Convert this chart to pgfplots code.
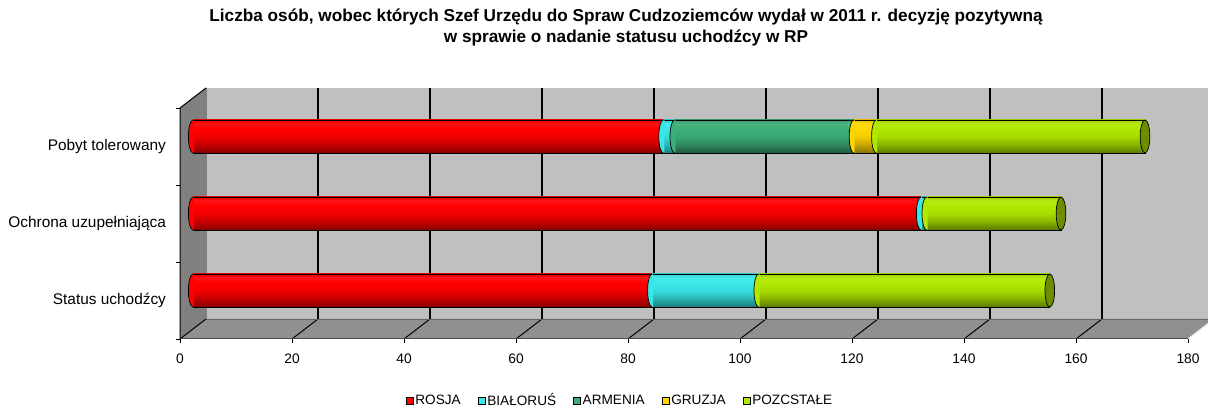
\documentclass[border=0pt]{standalone}
\usepackage{pgfplots}
\pgfplotsset{compat=1.18}
\usepackage{fontspec}
\setmainfont{Liberation Sans}
\usetikzlibrary{calc}

\definecolor{cRos}{HTML}{FF0000}
\definecolor{cBia}{HTML}{38E8E8}
\definecolor{cArm}{HTML}{3CAF78}
\definecolor{cGru}{HTML}{FFD700}
\definecolor{cPoz}{HTML}{B0E800}
\definecolor{cCap}{HTML}{6E8C00}
\definecolor{wallback}{HTML}{C0C0C0}
\definecolor{wallleft}{HTML}{808080}
\definecolor{wallfloor}{HTML}{909090}

% cylinder-like vertical shadings (path spans 25bp..75bp)
\newcommand{\cylshade}[2]{%
  \pgfdeclareverticalshading{#1}{100bp}{%
    color(0bp)=(#2!52!black); color(25bp)=(#2!52!black);
    color(38bp)=(#2!78!black); color(50bp)=(#2!95!black);
    color(62bp)=(#2); color(69bp)=(#2!92!white);
    color(75bp)=(#2!90!black); color(100bp)=(#2!90!black)}}
\cylshade{shRos}{cRos}
\cylshade{shBia}{cBia}
\cylshade{shArm}{cArm}
\cylshade{shGru}{cGru}
\cylshade{shPoz}{cPoz}

\pgfdeclareplotmark{lcap}{%
  \pgfpathmoveto{\pgfpoint{0.45pt}{8.25pt}}%
  \pgfpathlineto{\pgfpoint{0pt}{8.25pt}}%
  \pgfpatharc{90}{270}{2.3pt and 8.25pt}%
  \pgfpathlineto{\pgfpoint{0.45pt}{-8.25pt}}%
  \pgfpathclose\pgfusepathqfill
  \pgfpathmoveto{\pgfpoint{0pt}{8.25pt}}%
  \pgfpatharc{90}{270}{2.3pt and 8.25pt}%
  \pgfusepathqstroke}
\pgfdeclareplotmark{rcap}{%
  \pgfpathellipse{\pgfpointorigin}{\pgfpoint{2.4pt}{0pt}}{\pgfpoint{0pt}{8.25pt}}%
  \pgfusepathqfillstroke}

\pgfplotsset{myax/.style={at={(96.5pt,40.5pt)}, anchor=south west, scale only axis,
  width=504pt, height=115.5pt, xmin=0, xmax=180, ymin=0.5, ymax=3.5, clip=false},
  sRos/.style={shading=shRos},
  sBia/.style={shading=shBia},
  sArm/.style={shading=shArm},
  sGru/.style={shading=shGru},
  sPoz/.style={shading=shPoz},
}

\newcommand{\F}[2]{($(axis cs:#1,#2)+(-6.5pt,-5pt)$)}
\newcommand{\B}[2]{($(axis cs:#1,#2)+(6.5pt,5pt)$)}

% one stacked bar per axis, so that each bar is shaded on its own
% #1 category position, #2..#6 ROSJA, BIALORUS, ARMENIA, GRUZJA, POZOSTALE
\newcommand{\onebar}[6]{%
\begin{axis}[myax, hide axis, xbar stacked, bar width=16.5pt,
  every axis plot/.append style={draw=black, line width=0.35pt}]
\addplot[sRos] coordinates {(#2,#1)};
\addplot[sBia] coordinates {(#3,#1)};
\addplot[sArm] coordinates {(#4,#1)};
\addplot[sGru] coordinates {(#5,#1)};
\addplot[sPoz] coordinates {(#6,#1)};
\end{axis}}

\begin{document}
\begin{tikzpicture}
\path[use as bounding box] (0,0) rectangle (604pt,205pt);
\node[align=center, font=\fontsize{8.6}{10.5}\selectfont\bfseries] at (313pt,191.25pt)
  {Liczba osób, wobec których Szef Urzędu do Spraw Cudzoziemców wydał w 2011 r. decyzję pozytywną\\ w sprawie o nadanie statusu uchodźcy w RP};

% walls, ticks, labels, legend
\begin{axis}[myax,
  axis line style={draw=none}, major tick length=0pt,
  /pgf/number format/assume math mode=true,
  xtick={0,20,...,180}, ytick={1,2,3},
  yticklabels={Status uchodźcy, Ochrona uzupełniająca, Pobyt tolerowany},
  xticklabel style={font=\fontsize{6.9}{8}\selectfont, xshift=-6.5pt, yshift=-9pt},
  yticklabel style={font=\fontsize{7.7}{9}\selectfont, xshift=-10pt, yshift=-5pt},
  legend columns=5,
  legend style={at={(0.4236,-0.312)}, anchor=center, draw=none, fill=none,
    font=\fontsize{6.8}{8}\selectfont,
    nodes={inner xsep=1pt, inner ysep=0.5pt},
    /tikz/every even column/.append style={column sep=7.5pt}},
  legend image code/.code={\draw[#1, draw=black, line width=0.3pt] (0pt,-1.75pt) rectangle (3.5pt,1.75pt);},
]
\addlegendimage{fill=cRos}\addlegendentry{ROSJA}
\addlegendimage{fill=cBia}\addlegendentry{BIAŁORUŚ}
\addlegendimage{fill=cArm}\addlegendentry{ARMENIA}
\addlegendimage{fill=cGru}\addlegendentry{GRUZJA}
\addlegendimage{fill=cPoz}\addlegendentry{POZCSTAŁE}
\fill[wallback] \B{0}{0.5} rectangle \B{180}{3.5};
\fill[wallfloor] \F{0}{0.5} -- \F{180}{0.5} -- \B{180}{0.5} -- \B{0}{0.5} -- cycle;
\fill[wallleft] \F{0}{0.5} -- \F{0}{3.5} -- \B{0}{3.5} -- \B{0}{0.5} -- cycle;
\pgfplotsinvokeforeach{20,40,...,160}{
  \draw[black, line width=0.7pt] \B{#1}{0.5} -- \B{#1}{3.5};
}
\pgfplotsinvokeforeach{0,20,...,160}{
  \draw[black, line width=0.5pt] \F{#1}{0.5} -- \B{#1}{0.5};
  \draw[black, line width=0.4pt] \F{#1}{0.5} -- ++(0pt,-2pt);
}
\draw[white!85!gray, line width=0.6pt] \F{180}{0.5} -- \B{180}{0.5};
\draw[black, line width=0.4pt] \F{180}{0.5} -- ++(0pt,-2pt);
\draw[black!70, line width=0.5pt] \F{0}{0.5} -- \F{180}{0.5};
\draw[black!60, line width=0.4pt] \B{0}{0.5} -- \B{180}{0.5};
\draw[black!50, line width=0.4pt] \B{0}{0.5} -- \B{0}{3.5};
\draw[black, line width=0.5pt] \F{0}{0.5} -- \F{0}{3.5} -- \B{0}{3.5};
\pgfplotsinvokeforeach{0.5,1.5,2.5,3.5}{
  \draw[black, line width=0.4pt] \F{0}{#1} -- ++(-2pt,0pt);
}
\end{axis}

% stacked bars
\onebar{1}{82}{19}{0}{0}{52}
\onebar{2}{130}{1}{0}{0}{24}
\onebar{3}{84}{2}{32}{4}{48}

% cylinder caps
\begin{axis}[myax, hide axis]
\addplot[only marks, mark=lcap, mark options={fill=cRos, draw=black, line width=0.35pt}]
  coordinates {(0,1) (0,2) (0,3)};
\addplot[only marks, mark=lcap, mark options={fill=cBia, draw=black, line width=0.35pt}]
  coordinates {(82,1) (130,2) (84,3)};
\addplot[only marks, mark=lcap, mark options={fill=cArm, draw=black, line width=0.35pt}]
  coordinates {(86,3)};
\addplot[only marks, mark=lcap, mark options={fill=cGru, draw=black, line width=0.35pt}]
  coordinates {(118,3)};
\addplot[only marks, mark=lcap, mark options={fill=cPoz, draw=black, line width=0.35pt}]
  coordinates {(101,1) (131,2) (122,3)};
\addplot[only marks, mark=rcap, mark options={fill=cCap, draw=black, line width=0.35pt}]
  coordinates {(153,1) (155,2) (170,3)};
\end{axis}
\end{tikzpicture}
\end{document}
